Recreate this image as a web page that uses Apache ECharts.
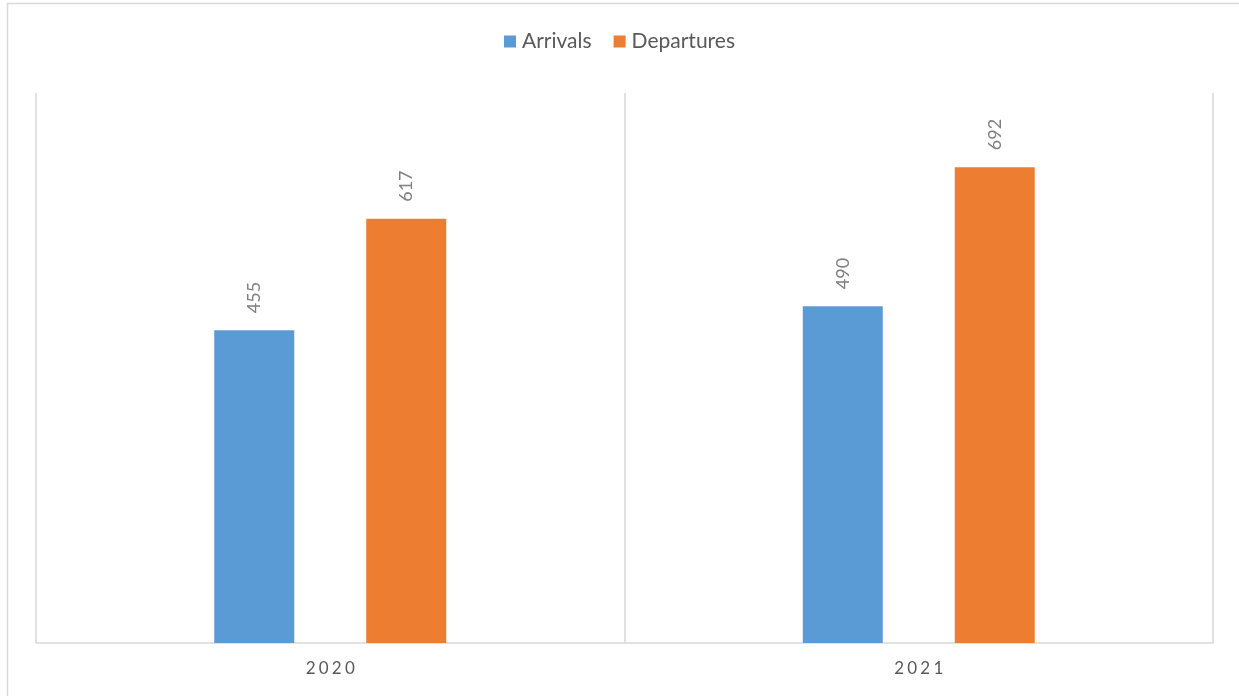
<!DOCTYPE html>
<html><head><meta charset="utf-8">
<script src="https://cdn.jsdelivr.net/npm/echarts@6/dist/echarts.min.js"></script>
<style>html,body{margin:0;padding:0;background:#fff}#c{width:1239px;height:696px}</style>
</head><body><div id="c"></div>
<script>
const categories = ['2020', '2021'];
const arrivals = [455, 490];
const departures = [617, 692];
const seriesNames = ['Arrivals', 'Departures'];

const chart = echarts.init(document.getElementById('c'), null, {renderer: 'canvas'});
const font = 'Lato, "Open Sans", sans-serif';
const labelCfg = {
  show: true, position: 'top', rotate: 90, align: 'left', verticalAlign: 'middle',
  distance: 17, color: '#7f7f7f', fontSize: 18, fontFamily: font
};
chart.setOption({
  animation: false,
  graphic: [{type: 'rect', shape: {x: 7.5, y: 3.5, width: 1240, height: 700}, style: {fill: 'none', stroke: '#d9d9d9', lineWidth: 1.5}, silent: true}],
  legend: {
    top: 26, left: 'center', itemWidth: 12, itemHeight: 12, itemGap: 22, icon: 'rect',
    textStyle: {color: '#595959', fontSize: 21, fontFamily: font, padding: [0, 0, 0, 1]}
  },
  grid: {left: 36, right: 26, top: 93, bottom: 53, containLabel: false},
  xAxis: {
    type: 'category', data: categories, boundaryGap: true,
    axisLine: {lineStyle: {color: '#d9d9d9', width: 1.5}},
    axisTick: {show: false},
    splitLine: {show: true, lineStyle: {color: '#d9d9d9', width: 1.5}},
    axisLabel: {color: '#595959', fontSize: 17, fontFamily: font, margin: 17,
      formatter: v => v.split('').join('\u2009\u200A')}
  },
  yAxis: {type: 'value', min: 0, max: 800, show: false, splitLine: {show: false}},
  series: [
    {name: seriesNames[0], type: 'bar', data: arrivals, barWidth: 80, barGap: '90%', itemStyle: {color: '#5b9bd5'}, label: labelCfg},
    {name: seriesNames[1], type: 'bar', data: departures, barWidth: 80, itemStyle: {color: '#ed7d31'}, label: labelCfg}
  ]
});
</script></body></html>
